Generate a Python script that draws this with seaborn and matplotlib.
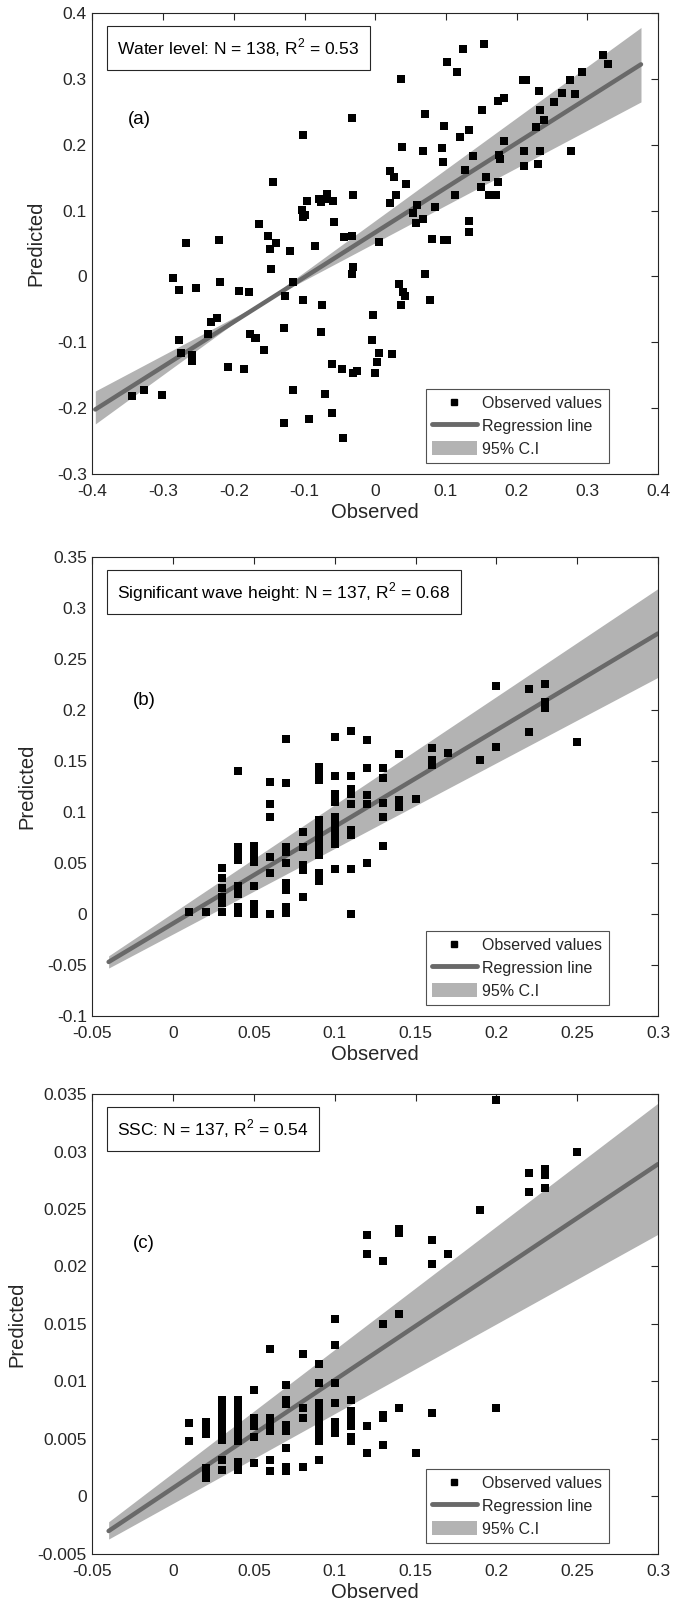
import matplotlib
matplotlib.use("Agg")
import matplotlib.pyplot as plt
import numpy as np
import pandas as pd
import seaborn as sns
from matplotlib.lines import Line2D
from matplotlib.patches import Patch
from matplotlib.ticker import FuncFormatter, FixedLocator

# ---------------- Panel (a): Water level ----------------
obs_a = [-0.344, -0.327, -0.302, -0.286, -0.278, -0.277, -0.275, -0.268, -0.259, -0.259,
         -0.253, -0.236, -0.233, -0.224, -0.221, -0.219, -0.208, -0.193, -0.185, -0.178,
         -0.177, -0.170, -0.168, -0.165, -0.158, -0.151, -0.149, -0.148, -0.144, -0.140,
         -0.129, -0.129, -0.127, -0.120, -0.117, -0.117, -0.103, -0.102, -0.102, -0.102,
         -0.100, -0.097, -0.093, -0.085, -0.079, -0.077, -0.076, -0.075, -0.071, -0.068,
         -0.068, -0.061, -0.061, -0.060, -0.059, -0.046, -0.047, -0.044, -0.033, -0.033,
         -0.032, -0.033, -0.031, -0.031, -0.026, -0.003, -0.004, -0.001, 0.003, 0.005,
         0.005, 0.021, 0.021, 0.024, 0.027, 0.029, 0.034, 0.036, 0.036, 0.038,
         0.040, 0.042, 0.044, 0.054, 0.057, 0.059, 0.067, 0.067, 0.070, 0.071,
         0.078, 0.081, 0.084, 0.094, 0.096, 0.097, 0.098, 0.102, 0.101, 0.113,
         0.116, 0.120, 0.124, 0.127, 0.132, 0.133, 0.133, 0.138, 0.149, 0.151,
         0.154, 0.157, 0.161, 0.171, 0.173, 0.173, 0.175, 0.176, 0.182, 0.182,
         0.209, 0.214, 0.210, 0.211, 0.227, 0.230, 0.232, 0.233, 0.233, 0.239,
         0.253, 0.264, 0.276, 0.277, 0.283, 0.292, 0.322, 0.329]
pred_a = [-0.182, -0.172, -0.180, -0.002, -0.021, -0.096, -0.116, 0.051, -0.120, -0.129,
          -0.018, -0.087, -0.069, -0.063, 0.055, -0.009, -0.138, -0.022, -0.141, -0.024,
          -0.087, -0.094, -0.093, 0.080, -0.112, 0.061, 0.042, 0.012, 0.144, 0.051,
          -0.222, -0.078, -0.029, 0.039, -0.009, -0.172, 0.101, 0.090, -0.036, 0.214,
          0.094, 0.115, -0.216, 0.046, 0.118, 0.113, -0.084, -0.044, -0.178, 0.125,
          0.117, -0.207, -0.133, 0.115, 0.082, -0.245, -0.140, 0.060, 0.240, 0.061,
          0.014, 0.004, -0.147, 0.124, -0.143, -0.058, -0.097, -0.146, -0.130, -0.116,
          0.053, 0.112, 0.160, -0.118, 0.151, 0.124, -0.011, -0.044, 0.300, 0.197,
          -0.024, -0.030, 0.141, 0.097, 0.081, 0.109, 0.087, 0.191, 0.247, 0.004,
          -0.036, 0.057, 0.106, 0.195, 0.174, 0.228, 0.056, 0.055, 0.326, 0.123,
          0.310, 0.212, 0.345, 0.162, 0.222, 0.084, 0.068, 0.183, 0.136, 0.252,
          0.353, 0.151, 0.124, 0.124, 0.143, 0.267, 0.184, 0.179, 0.271, 0.205,
          0.299, 0.299, 0.191, 0.168, 0.227, 0.171, 0.282, 0.191, 0.252, 0.238,
          0.265, 0.279, 0.298, 0.191, 0.277, 0.311, 0.336, 0.323]
fit_x_a = [-0.396, 0.376]
fit_y_a = [-0.202, 0.322]
ci_1_a = [-0.224, 0.378]
ci_2_a = [-0.174, 0.265]
xticks_a = [-0.4, -0.3, -0.2, -0.1, 0, 0.1, 0.2, 0.3, 0.4]
yticks_a = [-0.3, -0.2, -0.1, 0, 0.1, 0.2, 0.3, 0.4]

# ---------------- Panel (b): Significant wave height ----------------
obs_b = [0.01, 0.02,
         0.03, 0.03, 0.03, 0.03, 0.03, 0.03,
         0.04, 0.04, 0.04, 0.04, 0.04, 0.04, 0.04, 0.04,
         0.05, 0.05, 0.05, 0.05, 0.05, 0.05, 0.05,
         0.06, 0.06, 0.06, 0.06, 0.06, 0.06,
         0.07, 0.07, 0.07, 0.07, 0.07, 0.07, 0.07, 0.07, 0.07,
         0.08, 0.08, 0.08, 0.08, 0.08,
         0.09, 0.09, 0.09, 0.09, 0.09, 0.09, 0.09, 0.09, 0.09, 0.09, 0.09,
         0.10, 0.10, 0.10, 0.10, 0.10, 0.10, 0.10, 0.10, 0.10, 0.10,
         0.11, 0.11, 0.11, 0.11, 0.11, 0.11, 0.11, 0.11, 0.11,
         0.12, 0.12, 0.12, 0.12, 0.12,
         0.13, 0.13, 0.13, 0.13, 0.13,
         0.14, 0.14, 0.14,
         0.15,
         0.16, 0.16, 0.16,
         0.17, 0.19, 0.20, 0.20, 0.22, 0.22, 0.23, 0.23, 0.23, 0.25]
pred_b = [0.002, 0.002,
          0.045, 0.035, 0.025, 0.017, 0.011, 0.002,
          0.140, 0.066, 0.060, 0.053, 0.027, 0.020, 0.007, 0.001,
          0.067, 0.059, 0.051, 0.027, 0.010, 0.005, 0.000,
          0.129, 0.108, 0.095, 0.056, 0.040, 0.000,
          0.172, 0.128, 0.066, 0.061, 0.050, 0.030, 0.024, 0.007, 0.001,
          0.080, 0.066, 0.048, 0.043, 0.017,
          0.144, 0.138, 0.131, 0.092, 0.085, 0.078, 0.071, 0.064, 0.058, 0.040, 0.032,
          0.174, 0.135, 0.118, 0.110, 0.095, 0.089, 0.082, 0.076, 0.069, 0.044,
          0.179, 0.135, 0.123, 0.118, 0.108, 0.082, 0.077, 0.044, 0.000,
          0.171, 0.143, 0.117, 0.108, 0.050,
          0.143, 0.133, 0.109, 0.095, 0.067,
          0.157, 0.112, 0.105,
          0.113,
          0.163, 0.151, 0.146,
          0.158, 0.151, 0.224, 0.164, 0.221, 0.178, 0.225, 0.208, 0.202, 0.169]
fit_x_b = [-0.04, 0.30]
fit_y_b = [-0.047, 0.275]
ci_1_b = [-0.041, 0.319]
ci_2_b = [-0.053, 0.232]
xticks_b = [-0.05, 0, 0.05, 0.1, 0.15, 0.2, 0.25, 0.3]
yticks_b = [-0.1, -0.05, 0, 0.05, 0.1, 0.15, 0.2, 0.25, 0.3, 0.35]

# ---------------- Panel (c): SSC ----------------
obs_c = [0.01, 0.01,
         0.02, 0.02, 0.02, 0.02, 0.02, 0.02,
         0.03, 0.03, 0.03, 0.03, 0.03, 0.03, 0.03, 0.03, 0.03, 0.03, 0.03,
         0.04, 0.04, 0.04, 0.04, 0.04, 0.04, 0.04, 0.04, 0.04,
         0.05, 0.05, 0.05, 0.05, 0.05,
         0.06, 0.06, 0.06, 0.06, 0.06, 0.06,
         0.07, 0.07, 0.07, 0.07, 0.07, 0.07, 0.07, 0.07,
         0.08, 0.08, 0.08, 0.08,
         0.09, 0.09, 0.09, 0.09, 0.09, 0.09, 0.09, 0.09, 0.09, 0.09,
         0.10, 0.10, 0.10, 0.10, 0.10, 0.10, 0.10,
         0.11, 0.11, 0.11, 0.11, 0.11, 0.11,
         0.12, 0.12, 0.12, 0.12,
         0.13, 0.13, 0.13, 0.13, 0.13,
         0.14, 0.14, 0.14, 0.14,
         0.15,
         0.16, 0.16, 0.16,
         0.17, 0.19, 0.20, 0.20, 0.22, 0.22, 0.23, 0.23, 0.23, 0.25]
pred_c = [0.0064, 0.0048,
          0.0065, 0.0059, 0.0054, 0.0025, 0.0020, 0.0016,
          0.0084, 0.0080, 0.0075, 0.0071, 0.0067, 0.0062, 0.0058, 0.0054, 0.0049, 0.0032, 0.0023,
          0.0084, 0.0080, 0.0074, 0.0067, 0.0061, 0.0055, 0.0048, 0.0030, 0.0023,
          0.0093, 0.0068, 0.0061, 0.0052, 0.0029,
          0.0128, 0.0068, 0.0064, 0.0057, 0.0032, 0.0022,
          0.0097, 0.0084, 0.0080, 0.0062, 0.0057, 0.0042, 0.0026, 0.0022,
          0.0124, 0.0077, 0.0068, 0.0026,
          0.0115, 0.0099, 0.0081, 0.0075, 0.0069, 0.0064, 0.0058, 0.0052, 0.0048, 0.0032,
          0.0154, 0.0132, 0.0099, 0.0081, 0.0065, 0.0061, 0.0055,
          0.0084, 0.0074, 0.0067, 0.0061, 0.0052, 0.0048,
          0.0227, 0.0211, 0.0061, 0.0038,
          0.0205, 0.0150, 0.0071, 0.0068, 0.0045,
          0.0233, 0.0229, 0.0159, 0.0077,
          0.0038,
          0.0223, 0.0202, 0.0073,
          0.0211, 0.0249, 0.0345, 0.0077, 0.0281, 0.0265, 0.0285, 0.0280, 0.0268, 0.0300]
fit_x_c = [-0.04, 0.30]
fit_y_c = [-0.0030, 0.0289]
ci_1_c = [-0.0022, 0.0342]
ci_2_c = [-0.0037, 0.0228]
xticks_c = [-0.05, 0, 0.05, 0.1, 0.15, 0.2, 0.25, 0.3]
yticks_c = [-0.005, 0, 0.005, 0.01, 0.015, 0.02, 0.025, 0.03, 0.035]

box_texts = ["Water level: N = 138, R$^2$ = 0.53",
             "Significant wave height: N = 137, R$^2$ = 0.68",
             "SSC: N = 137, R$^2$ = 0.54"]
panel_labels = ["(a)", "(b)", "(c)"]
legend_labels = ["Observed values", "Regression line", "95% C.I"]

# ---------------- Style ----------------
sns.set_style("white")
plt.rcParams["font.family"] = ["Liberation Sans", "DejaVu Sans"]
plt.rcParams["axes.unicode_minus"] = False
plt.rcParams["mathtext.fontset"] = "custom"
plt.rcParams["mathtext.rm"] = "Liberation Sans"

AX_COLOR = "#262626"
LINE_COLOR = "#696969"
BAND_COLOR = "#b3b3b3"
TICK_FS = 12.5
LABEL_FS = 14.5

fig = plt.figure(figsize=(6.74, 16.13), dpi=100)
positions = [
    [0.1372, 0.70614, 0.8390, 0.28580],
    [0.1372, 0.37012, 0.8390, 0.28456],
    [0.1372, 0.03658, 0.8390, 0.28518],
]

panels = [
    (obs_a, pred_a, fit_x_a, fit_y_a, ci_1_a, ci_2_a, xticks_a, yticks_a, (0.063, 0.768)),
    (obs_b, pred_b, fit_x_b, fit_y_b, ci_1_b, ci_2_b, xticks_b, yticks_b, (0.072, 0.688)),
    (obs_c, pred_c, fit_x_c, fit_y_c, ci_1_c, ci_2_c, xticks_c, yticks_c, (0.072, 0.674)),
]

fmt = FuncFormatter(lambda v, p: "%g" % round(v, 6))

for i, (ox, py, fx, fy, c1, c2, xt, yt, lab_pos) in enumerate(panels):
    ax = fig.add_axes(positions[i])
    df = pd.DataFrame({"Observed": ox, "Predicted": py})
    fit_df = pd.DataFrame({"x": fx, "y": fy})

    ax.fill_between(fx, c1, c2, color=BAND_COLOR, linewidth=0, zorder=1)
    sns.lineplot(data=fit_df, x="x", y="y", ax=ax, color=LINE_COLOR, linewidth=3.2,
                 zorder=2, legend=False)
    sns.scatterplot(data=df, x="Observed", y="Predicted", ax=ax, marker="s",
                    color="black", s=26, linewidth=0, zorder=3, legend=False)

    ax.set_xlim(xt[0], xt[-1])
    ax.set_ylim(yt[0], yt[-1])
    ax.xaxis.set_major_locator(FixedLocator(xt))
    ax.yaxis.set_major_locator(FixedLocator(yt))
    ax.xaxis.set_major_formatter(fmt)
    ax.yaxis.set_major_formatter(fmt)
    ax.tick_params(direction="in", top=True, right=True, length=5, width=0.8,
                   colors=AX_COLOR, labelsize=TICK_FS)
    ax.tick_params(axis="x", pad=7)
    ax.tick_params(axis="y", pad=4)
    for sp in ax.spines.values():
        sp.set_visible(True)
        sp.set_color(AX_COLOR)
        sp.set_linewidth(0.8)
    ax.set_xlabel("Observed", fontsize=LABEL_FS, color=AX_COLOR, labelpad=3)
    ax.set_ylabel("Predicted", fontsize=LABEL_FS, color=AX_COLOR, labelpad=8)

    ax.text(0.0433, 0.924, box_texts[i], transform=ax.transAxes, fontsize=12.5,
            ha="left", va="center", color="black", zorder=5,
            bbox=dict(boxstyle="square,pad=0.6", fc="white", ec=AX_COLOR, lw=0.8))
    ax.text(lab_pos[0], lab_pos[1], panel_labels[i], transform=ax.transAxes,
            fontsize=13.5, ha="left", va="center", color="black")

    handles = [
        Line2D([], [], marker="s", linestyle="none", color="black", markersize=5),
        Line2D([], [], color=LINE_COLOR, linewidth=3.5),
        Patch(facecolor=BAND_COLOR, edgecolor="none"),
    ]
    leg = ax.legend(handles, legend_labels, loc="lower right",
                    bbox_to_anchor=(0.913, 0.024), borderaxespad=0, fontsize=11.5,
                    frameon=True, fancybox=False, handlelength=2.8, handleheight=1.0,
                    handletextpad=0.35, labelspacing=0.45, borderpad=0.4)
    leg.get_frame().set_edgecolor(AX_COLOR)
    leg.get_frame().set_linewidth(0.8)
    leg.set_zorder(6)

fig.savefig("out.png", dpi=100, facecolor="white")
